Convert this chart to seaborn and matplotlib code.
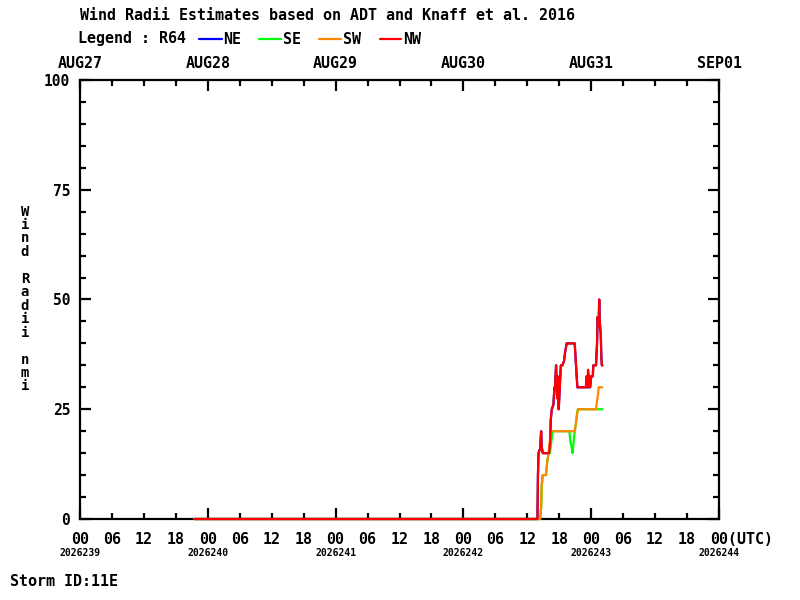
import numpy as np
import pandas as pd
import matplotlib
matplotlib.use("Agg")
import matplotlib.pyplot as plt
import matplotlib.transforms as mtransforms
from matplotlib.lines import Line2D
import seaborn as sns

# hours since AUG27 00UTC, R64 radii (nmi)
nw_hours = [21.5, 85.9, 86.0, 86.1, 86.4, 86.6, 86.7, 86.9, 88.1, 88.3, 88.4, 88.6, 88.9,
            89.1, 89.2, 89.4, 89.6, 89.7, 89.9, 90.1, 90.3, 90.6, 90.9, 91.1, 91.4, 92.9,
            93.1, 93.4, 95.0, 95.1, 95.3, 95.4, 95.6, 95.8, 96.0, 96.3, 96.4, 96.9, 97.1,
            97.2, 97.4, 97.5, 97.6, 97.8, 97.9, 98.0, 98.1]
nw_vals = [0, 0, 10, 15, 16, 20, 16.5, 15, 15, 17.5, 22.5, 25, 26,
           30, 30, 35, 27.5, 32.5, 25, 30, 35, 35, 36, 38, 40, 40,
           36, 30, 30, 32.5, 30, 34, 32.5, 30, 32.5, 32.5, 35, 35, 40,
           46, 44, 50, 45, 42, 37, 35, 35]

ne_hours = nw_hours
ne_vals = [0, 0, 10, 15, 16, 20, 16.5, 15, 15, 17.5, 22.5, 25, 26,
           30, 30, 35, 27.5, 32.5, 25, 30, 35, 35, 36, 38, 40, 40,
           36, 30, 30, 30, 30, 30, 30, 30, 32.5, 32.5, 35, 35, 40,
           46, 44, 50, 45, 42, 37, 35, 35]

sw_hours = [21.5, 86.4, 86.6, 86.7, 86.9, 87.5, 87.7, 87.8, 88.0, 88.2, 88.4, 92.9,
            93.1, 93.3, 93.5, 96.9, 97.1, 97.3, 97.4, 98.1]
sw_vals = [0, 0, 2.5, 7.5, 10, 10, 12.5, 13.5, 15, 17.5, 20, 20,
           21.5, 23.5, 25, 25, 27, 28.5, 30, 30]

se_hours = [21.5, 86.4, 86.6, 86.7, 86.9, 87.5, 87.7, 87.8, 88.0, 88.25, 88.5, 88.75,
            91.9, 92.1, 92.3, 92.5, 92.7, 92.9, 93.1, 93.3, 93.5, 98.1]
se_vals = [0, 0, 2.5, 7.5, 10, 10, 12.5, 13.5, 15, 15, 17.5, 20,
           20, 17.5, 16.5, 15, 17.5, 20, 21.5, 23.5, 25, 25]

quadrants = ["NE", "SE", "SW", "NW"]
colors = ["#0000ff", "#00ff00", "#ff8800", "#ff0000"]
months = ["AUG27", "AUG28", "AUG29", "AUG30", "AUG31", "SEP01"]
julian = ["2026239", "2026240", "2026241", "2026242", "2026243", "2026244"]

frames = []
for q, h, v in [("NE", ne_hours, ne_vals), ("SE", se_hours, se_vals),
                ("SW", sw_hours, sw_vals), ("NW", nw_hours, nw_vals)]:
    frames.append(pd.DataFrame({"hour": h, "radius": v, "quad": q}))
df = pd.concat(frames, ignore_index=True)

sns.set_style("ticks")
plt.rcParams['font.family'] = ['DejaVu Sans Mono']
plt.rcParams['font.weight'] = 'bold'
plt.rcParams['text.color'] = 'black'
plt.rcParams['ytick.color'] = 'black'
plt.rcParams['xtick.color'] = 'black'
plt.rcParams['ytick.labelcolor'] = 'black'

fig = plt.figure(figsize=(8, 6), dpi=100)
ax = fig.add_axes([0.1, 0.135, 0.79875, 0.7317])

sns.lineplot(data=df, x="hour", y="radius", hue="quad", hue_order=quadrants,
             palette=colors, estimator=None, sort=False, linewidth=1.6,
             legend=False, ax=ax)
for ln in ax.lines:
    ln.set_zorder(3)
    ln.set_clip_on(False)

ax.set_xlim(0, 120)
ax.set_ylim(0, 100)
ax.set_xlabel("")
ax.set_ylabel("")
for s in ax.spines.values():
    s.set_visible(True)
    s.set_linewidth(1.6)
    s.set_color("black")

ax.set_xticks(np.arange(0, 121, 24))
ax.set_xticks(np.arange(0, 121, 6), minor=True)
ax.set_yticks([0, 25, 50, 75, 100])
ax.set_yticks(np.arange(0, 101, 5), minor=True)
ax.set_xticklabels([])
ax.set_yticklabels(["0", "25", "50", "75", "100"], fontsize=10.5, fontweight="bold",
                   color="black")
ax.tick_params(which="major", direction="in", length=8, width=1.6,
               top=True, right=True, pad=7, color="black")
ax.tick_params(which="minor", direction="in", length=4.5, width=1.6,
               top=True, right=True, color="black")

# x labels
bt = mtransforms.blended_transform_factory(ax.transData, fig.transFigure)
for i, h in enumerate(range(0, 121, 24)):
    ax.text(h, 1 - 64 / 600, months[i], transform=bt, ha="center", va="center",
            fontsize=10.8, fontweight="bold")
    ax.text(h, 1 - 553 / 600, julian[i], transform=bt, ha="center", va="center",
            fontsize=7, fontweight="bold")
for h in range(0, 121, 6):
    if h == 120:
        tr = mtransforms.offset_copy(bt, fig=fig, x=-9, y=0, units="dots")
        ax.text(h, 1 - 539 / 600, "00(UTC)", transform=tr, ha="left", va="center",
                fontsize=10.8, fontweight="bold")
    else:
        ax.text(h, 1 - 539 / 600, "%02d" % (h % 24), transform=bt, ha="center",
                va="center", fontsize=10.8, fontweight="bold")

# stacked y label
fig.text(25 / 800, 1 - 299 / 600, "\n".join("Wind Radii nmi"), ha="center", va="center",
         fontsize=10, fontweight="bold", linespacing=0.95)

fig.text(80 / 800, 1 - 16 / 600, "Wind Radii Estimates based on ADT and Knaff et al. 2016",
         ha="left", va="center", fontsize=10.8, fontweight="bold")

ly = 1 - 39 / 600
fig.text(78 / 800, ly, "Legend : R64", ha="left", va="center", fontsize=10.8,
         fontweight="bold")
seg_x = [(199, 222), (259, 281), (319, 341), (380, 401)]
lab_x = [223, 283, 343, 403]
for (x0, x1), lx, c, q in zip(seg_x, lab_x, colors, quadrants):
    fig.add_artist(Line2D([x0 / 800, x1 / 800], [ly, ly], color=c, linewidth=1.6,
                          transform=fig.transFigure))
    fig.text(lx / 800, ly, q, ha="left", va="center", fontsize=10.8, fontweight="bold")

fig.text(10 / 800, 1 - 582 / 600, "Storm ID:11E", ha="left", va="center",
         fontsize=10.8, fontweight="bold")

fig.savefig("out.png", dpi=100, facecolor="white")
